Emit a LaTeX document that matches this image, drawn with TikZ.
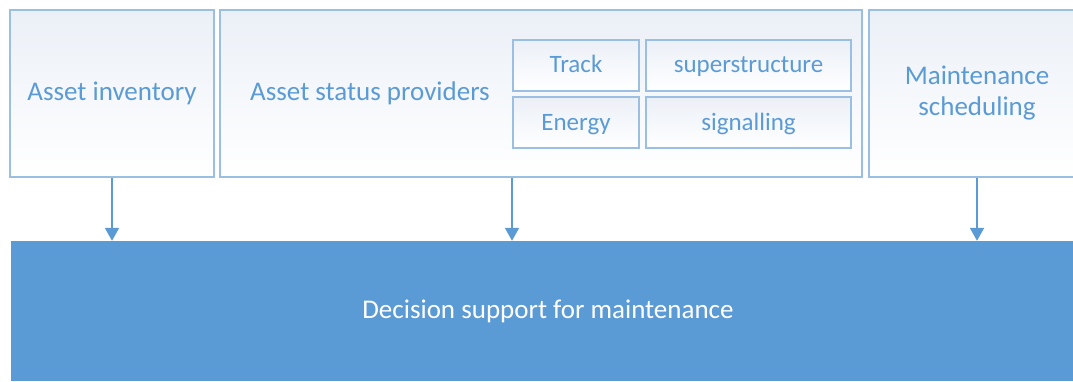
\documentclass[tikz,border=0pt]{standalone}
\usepackage{fontspec}
\setmainfont{Carlito}
\usetikzlibrary{arrows.meta}
\definecolor{barblue}{HTML}{5B9BD5}
\definecolor{edgeblue}{HTML}{9BBFE3}
\definecolor{textblue}{HTML}{5B9BD5}
\definecolor{topshade}{HTML}{EBF0F7}

\tikzset{
  panel/.style={draw=edgeblue,line width=2pt,top color=topshade,bottom color=white,
    text=textblue,font=\fontsize{27}{31}\selectfont,align=center,inner sep=0pt},
  subpanel/.style={panel,font=\fontsize{25}{29}\selectfont,text height=19pt,text depth=4pt},
  feed/.style={draw=barblue,line width=2pt,-{Triangle[width=14pt,length=13pt]}}
}

\begin{document}
\begin{tikzpicture}[x=1pt,y=1pt]
  \useasboundingbox (0,0) rectangle (1073,381);
  % top row
  \node[panel,minimum width=204pt,minimum height=167pt] (inv) at (112,287.5) {Asset inventory};
  \node[panel,minimum width=642pt,minimum height=167pt] (status) at (541,287.5) {};
  \node[text=textblue,font=\fontsize{27}{31}\selectfont] (statuslab) at (370,288) {Asset status providers};
  \node[panel,minimum width=216pt,minimum height=167pt] (sched) at (977,287.5) {Maintenance\\scheduling};
  % provider boxes
  \node[subpanel,minimum width=126pt,minimum height=51pt] (track) at (576,315.5) {Track};
  \node[subpanel,minimum width=205pt,minimum height=51pt] (super) at (748.5,315.5) {superstructure};
  \node[subpanel,minimum width=126pt,minimum height=51pt] (energy) at (576,258.5) {Energy};
  \node[subpanel,minimum width=205pt,minimum height=51pt] (signal) at (748.5,258.5) {signalling};
  % bottom bar
  \node[fill=barblue,text=white,font=\fontsize{27}{31}\selectfont,minimum width=1074pt,minimum height=140pt,inner sep=0pt] (dec) at (548,70) {Decision support for maintenance};
  % connectors
  \draw[feed] (inv.south) -- (inv.south |- dec.north);
  \draw[feed] (status.south -| track.west) -- (track.west |- dec.north);
  \draw[feed] (sched.south) -- (sched.south |- dec.north);
\end{tikzpicture}
\end{document}
